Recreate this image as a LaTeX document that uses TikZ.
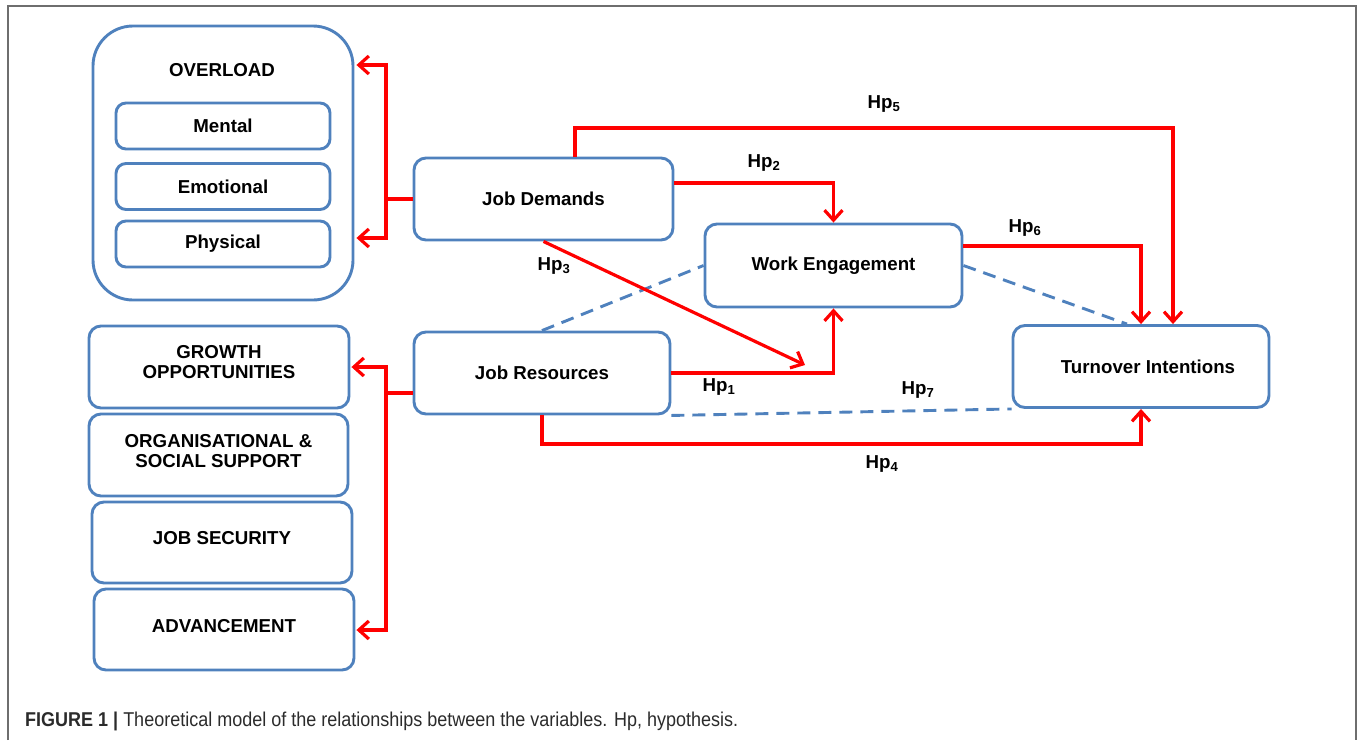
\documentclass[tikz,border=0pt]{standalone}
\usepackage{fontspec}
\setmainfont{Liberation Sans}
\newfontfamily\capfont[FakeStretch=0.9]{Liberation Sans}
\usetikzlibrary{arrows.meta}
\definecolor{boxblue}{HTML}{4F81BD}
\definecolor{arrred}{HTML}{FF0000}
\definecolor{framegray}{HTML}{6E6E6E}
\definecolor{capgray}{HTML}{2B2B2B}
\begin{document}
\begin{tikzpicture}[x=1pt,y=-1pt,
  box/.style={draw=boxblue,line width=2.9pt,rounded corners=12pt,fill=white,
    font=\bfseries\fontsize{18.7}{20}\selectfont,align=center,inner sep=0pt,
    minimum width=259pt,minimum height=82pt},
  subbox/.style={box,rounded corners=10pt,minimum width=214pt,minimum height=46pt},
  hp/.style={font=\bfseries\fontsize{18.7}{20}\selectfont,align=center,inner sep=0pt},
  barb/.tip={Straight Barb[length=10pt,width=18pt]},
  redline/.style={draw=arrred,line width=3.2pt},
  redarr/.style={redline,-barb},
  dashlink/.style={draw=boxblue,line width=2.9pt,dash pattern=on 13pt off 8pt}]
\useasboundingbox (0,0) rectangle (1360,740);
\draw[framegray,line width=1.5pt] (8,740) -- (8,6) -- (1356,6) -- (1356,740);

% left column
\node[box,minimum width=260pt,minimum height=274pt,rounded corners=40pt] (ovl) at (223,163) {};
\node[hp] (ovlt) at (222,70) {OVERLOAD};
\node[subbox] (men) at (223,126) {Mental};
\node[subbox] (emo) at (223,186.5) {Emotional};
\node[subbox] (phy) at (223,244) {Physical};

\node[box,minimum width=260pt,label={[hp,yshift=5pt]center:GROWTH\\OPPORTUNITIES}] (gr) at (219,367) {};
\node[box,label={[hp,yshift=4pt]center:ORGANISATIONAL \&\\SOCIAL SUPPORT}] (org) at (218.5,455) {};
\node[box,minimum width=260pt,minimum height=81pt,label={[hp,yshift=4.5pt]center:JOB SECURITY}] (sec) at (222,542.5) {};
\node[box,minimum width=260pt,minimum height=81pt,label={[hp,yshift=3.5pt]center:ADVANCEMENT}] (adv) at (224,629.5) {};

% main nodes
\node[box] (jd) at (543.5,199) {Job Demands};
\node[box,minimum width=257pt,minimum height=83pt] (we) at (833.5,265.5) {Work Engagement};
\node[box,minimum width=256pt] (jr) at (542,373) {Job Resources};
\node[box,minimum width=256pt] (to) at (1141,366.5) {\hspace*{14pt}Turnover Intentions};

% brackets
\coordinate (b1) at (386,199);
\coordinate (o1) at (386,65);
\coordinate (o2) at (386,238);
\draw[redline] (jd.west) -- (b1);
\draw[redline,barb-barb,shorten <=2pt,shorten >=2pt] (o1 -| ovl.east) -- (o1) -- (o2) -- (o2 -| ovl.east);

\coordinate (b2) at (386,393);
\coordinate (g1) at (386,367);
\coordinate (g2) at (386,630);
\draw[redline] ([yshift=-20pt]jr.west) -- (b2);
\draw[redline,barb-barb,shorten <=1pt,shorten >=1pt] (g1 -| gr.east) -- (g1) -- (g2) -- (g2 -| adv.east);

% dashed links
\draw[dashlink] (jr.north) -- (we.west);
\draw[dashlink] (we.east) -- ([xshift=-14pt]to.north);
\draw[dashlink] (jr.south east) -- (to.south west);

% hypotheses
\coordinate (c5) at (1173,128);
\draw[redarr] ([xshift=31.5pt]jd.north) |- (c5) -- (c5 |- to.north);
\draw[redarr] ([yshift=16pt]jd.east) -| (we.north);
\coordinate (h3) at (805,365);
\draw[redarr] (jd.south) -- (h3);
\draw[redarr] (jr.east) -| (we.south);
\draw[redarr] ([yshift=19.5pt]we.east) -| (to.north);
\coordinate (c4) at (542,444);
\draw[redarr] (jr.south) -- (c4) -| (to.south);

\node[hp] (l5) at (884,104) {Hp\textsubscript{5}};
\node[hp] (l2) at (764,163) {Hp\textsubscript{2}};
\node[hp] (l3) at (554,266) {Hp\textsubscript{3}};
\node[hp] (l6) at (1025,228) {Hp\textsubscript{6}};
\node[hp] (l1) at (719,387) {Hp\textsubscript{1}};
\node[hp] (l7) at (918,390) {Hp\textsubscript{7}};
\node[hp] (l4) at (882,464) {Hp\textsubscript{4}};

% caption
\node[anchor=west,inner sep=0pt,text=capgray,font=\capfont\fontsize{20}{22}\selectfont] (cap) at (25,721)
  {\textbf{FIGURE 1 |} Theoretical model of the relationships between the variables. Hp, hypothesis.};
\end{tikzpicture}
\end{document}
